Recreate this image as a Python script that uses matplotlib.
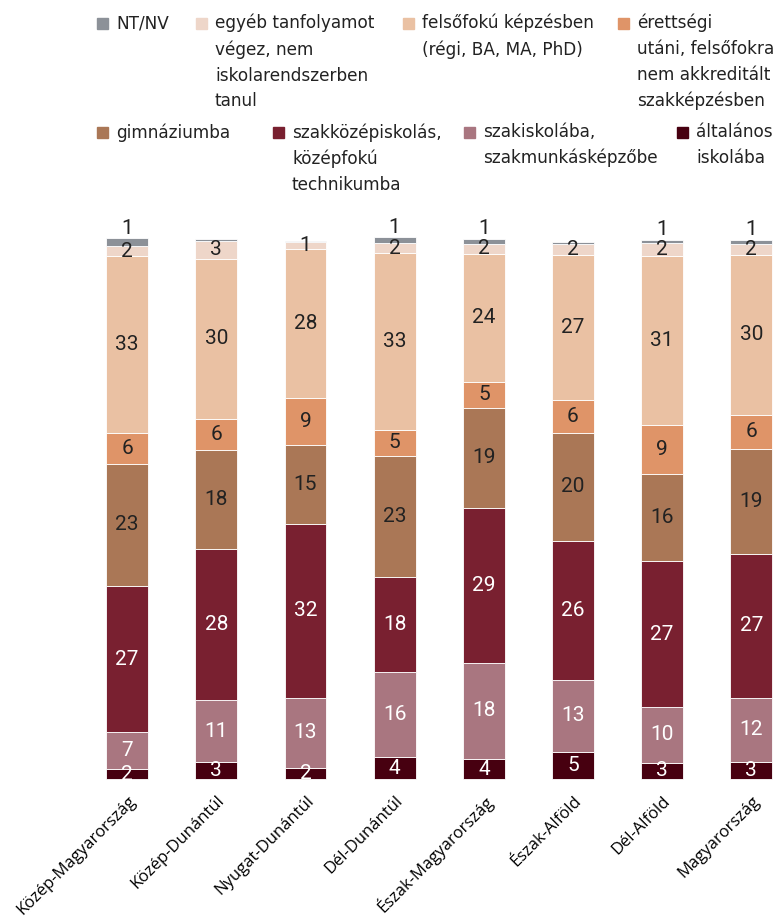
import matplotlib
matplotlib.use('Agg')
import matplotlib.pyplot as plt
from matplotlib.patches import Rectangle
from matplotlib.transforms import ScaledTranslation
import numpy as np

regions = ['Közép-Magyarország', 'Közép-Dunántúl', 'Nyugat-Dunántúl', 'Dél-Dunántúl',
           'Észak-Magyarország', 'Észak-Alföld', 'Dél-Alföld', 'Magyarország']

# stacked bottom -> top
altalanos = [1.8, 3.2, 2.1, 4.0, 3.7, 5.0, 3.0, 3.2]
szakiskola = [6.9, 11.4, 12.9, 15.8, 17.9, 13.4, 10.4, 11.9]
szakkozep = [27.1, 28.0, 32.4, 17.6, 28.7, 25.8, 27.0, 26.7]
gimnazium = [22.7, 18.4, 14.6, 22.6, 18.6, 20.0, 16.2, 19.4]
erettsegi = [5.7, 5.8, 8.7, 4.8, 4.8, 6.1, 9.0, 6.4]
felsofoku = [32.8, 29.7, 27.7, 32.8, 23.7, 27.0, 31.4, 29.6]
egyeb = [1.9, 3.4, 1.2, 1.8, 1.9, 1.9, 2.4, 2.1]
ntnv = [1.4, 0.3, 0.3, 1.1, 0.9, 0.4, 0.6, 0.7]

series = [
    ('általános\niskolába', altalanos, '#470010', 'white'),
    ('szakiskolába,\nszakmunkásképzőbe', szakiskola, '#a97680', 'white'),
    ('szakközépiskolás,\nközépfokú\ntechnikumba', szakkozep, '#792030', 'white'),
    ('gimnáziumba', gimnazium, '#aa7756', '#222222'),
    ('érettségi\nutáni, felsőfokra\nnem akkreditált\nszakképzésben', erettsegi, '#df9468', '#222222'),
    ('felsőfokú képzésben\n(régi, BA, MA, PhD)', felsofoku, '#eac1a3', '#222222'),
    ('egyéb tanfolyamot\nvégez, nem\niskolarendszerben\ntanul', egyeb, '#eed6c9', '#222222'),
    ('NT/NV', ntnv, '#8c9198', '#222222'),
]

W, H = 779, 922
fig = plt.figure(figsize=(W / 100, H / 100), dpi=100)
ax = fig.add_axes([95 / W, (H - 779) / H, (779 - 95) / W, 539 / H])

num_font = ['Liberation Sans Narrow', 'Roboto', 'DejaVu Sans']
x = np.arange(len(regions))
bottom = np.zeros(len(regions))
for name, vals, col, tcol in series:
    vals = np.array(vals)
    ax.bar(x, vals, bottom=bottom, width=0.47, color=col, edgecolor='white',
           linewidth=0.6, clip_on=False)
    for xi, v, b in zip(x, vals, bottom):
        if v < 0.5:
            continue
        if name == 'NT/NV':
            ax.annotate(str(int(v + 0.5)), (xi, b + v), xytext=(0, 0.5),
                        textcoords='offset points', ha='center', va='bottom',
                        fontsize=15, family=num_font, color='#222222',
                        annotation_clip=False)
        else:
            ax.text(xi, b + v / 2, str(int(v + 0.5)), ha='center', va='center',
                    fontsize=15, family=num_font, color=tcol)
    bottom += vals

ax.set_xlim(-0.36, 7.31)
ax.set_ylim(0, 100)
for s in ax.spines.values():
    s.set_visible(False)
ax.set_yticks([])
ax.set_xticks(x)
ax.set_xticklabels(regions, rotation=45, ha='right', va='center',
                   rotation_mode='anchor', fontsize=12, family='Open Sans')
ax.tick_params(axis='x', length=0, pad=14)
off = ScaledTranslation(0.06, 0, fig.dpi_scale_trans)
for lab in ax.get_xticklabels():
    lab.set_transform(lab.get_transform() + off)

# legend, drawn by hand (two rows, uneven columns); y = top of the text block
legend_layout = [
    ('NT/NV', 97, 14), ('egyéb tanfolyamot\nvégez, nem\niskolarendszerben\ntanul', 196, 14),
    ('felsőfokú képzésben\n(régi, BA, MA, PhD)', 403, 14),
    ('érettségi\nutáni, felsőfokra\nnem akkreditált\nszakképzésben', 618, 14),
    ('gimnáziumba', 97, 123), ('szakközépiskolás,\nközépfokú\ntechnikumba', 273, 123),
    ('szakiskolába,\nszakmunkásképzőbe', 464, 123), ('általános\niskolába', 677, 123),
]
colors = {name: col for name, _, col, _ in series}
for name, xs, yt in legend_layout:
    fig.add_artist(Rectangle((xs / W, (H - yt - 15) / H), 11 / W, 11 / H,
                             transform=fig.transFigure, color=colors[name]))
    fig.text((xs + 19) / W, (H - yt) / H, name, ha='left', va='top',
             fontsize=12.2, linespacing=1.55, color='#222222')

fig.savefig('out.png', dpi=100)
